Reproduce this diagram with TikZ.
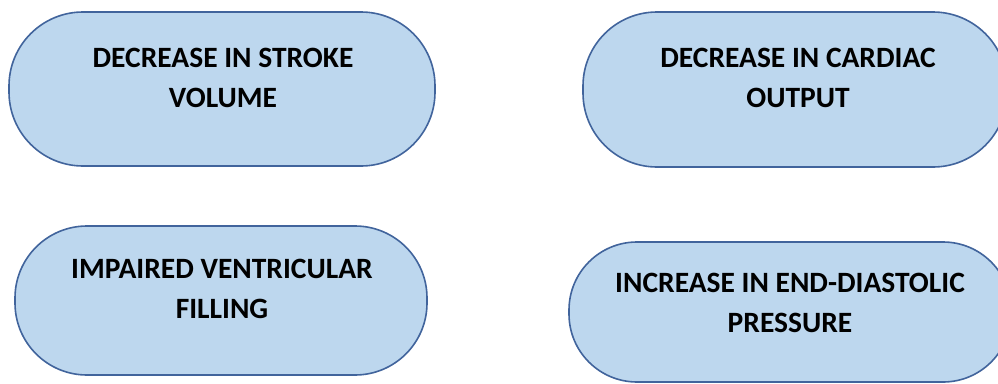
\documentclass[tikz,border=0pt]{standalone}
\usepackage{fontspec}
\setmainfont{Carlito}
\definecolor{pillfill}{HTML}{BDD7EE}
\definecolor{pilldraw}{HTML}{41649C}
\begin{document}
\begin{tikzpicture}[x=1pt,y=-1pt,
  pill/.style={draw=pilldraw, fill=pillfill, line width=1.6pt, rectangle, rounded corners=#1, inner sep=0pt},
  txt/.style={align=center, font=\fontsize{29.5}{40}\selectfont\bfseries, text=black, inner sep=0pt}]
\useasboundingbox (0,0) rectangle (998,383);
\clip (0,0) rectangle (998,383);
\node[pill=74pt, minimum width=426pt, minimum height=154pt] (b1) at (222,89) {};
\node[txt] (t1) at (223,78) {DECREASE IN STROKE\\VOLUME};
\node[pill=74pt, minimum width=424pt, minimum height=155pt] (b2) at (795,89.5) {};
\node[txt] (t2) at (798,78) {DECREASE IN CARDIAC\\OUTPUT};
\node[pill=72pt, minimum width=412pt, minimum height=149pt] (b3) at (221,300.5) {};
\node[txt] (t3) at (222,289) {IMPAIRED VENTRICULAR\\FILLING};
\node[pill=68pt, minimum width=442pt, minimum height=140pt] (b4) at (790,312) {};
\node[txt] (t4) at (790,303) {INCREASE IN END-DIASTOLIC\\PRESSURE};
\end{tikzpicture}
\end{document}
